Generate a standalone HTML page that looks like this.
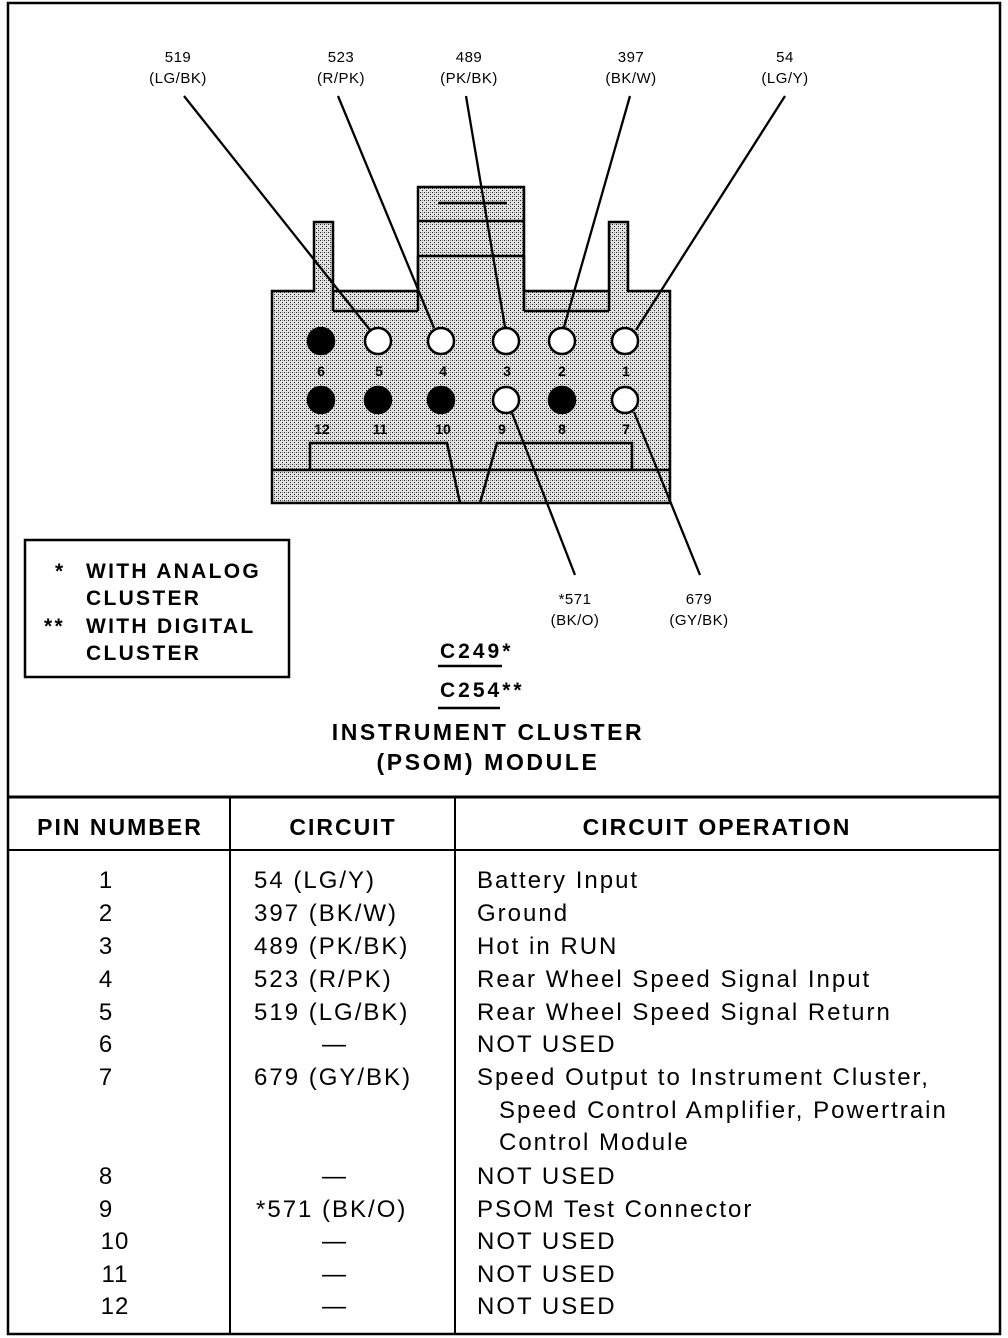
<!DOCTYPE html>
<html><head><meta charset="utf-8"><style>
html,body{margin:0;padding:0;background:#fff;}
svg{display:block}
text{font-family:"Liberation Sans",sans-serif;fill:#000}
.b{font-weight:bold}
</style></head><body>
<svg width="1008" height="1338" viewBox="0 0 1008 1338" xmlns="http://www.w3.org/2000/svg">
<defs>
<pattern id="dots" width="4" height="4" patternUnits="userSpaceOnUse">
<rect width="4" height="4" fill="#e2e2e2"/>
<rect x="0" y="0" width="1" height="1" fill="#222"/>
<rect x="2" y="2" width="1" height="1" fill="#222"/>
<rect x="2" y="0" width="1" height="1" fill="#888"/>
</pattern>
</defs>
<rect x="8" y="3" width="992" height="1331" fill="none" stroke="#000" stroke-width="2.5"/>
<line x1="8" y1="797" x2="1000" y2="797" stroke="#000" stroke-width="3"/>
<line x1="8" y1="850" x2="1000" y2="850" stroke="#000" stroke-width="2"/>
<line x1="230" y1="797" x2="230" y2="1334" stroke="#000" stroke-width="2"/>
<line x1="455" y1="797" x2="455" y2="1334" stroke="#000" stroke-width="2"/>

<g stroke="#000" stroke-width="2.5" fill="url(#dots)">
<path d="M272 291 L314 291 L314 222 L333 222 L333 291 L418 291 L418 187 L524 187 L524 291 L609 291 L609 222 L628 222 L628 291 L670 291 L670 503 L272 503 Z"/>
<line x1="418" y1="221" x2="524" y2="221"/>
<line x1="418" y1="256" x2="524" y2="256"/>
<line x1="438" y1="203" x2="507" y2="203"/>
<line x1="333" y1="311" x2="418" y2="311"/>
<line x1="418" y1="256" x2="418" y2="311"/>
<line x1="524" y1="311" x2="609" y2="311"/>
<line x1="524" y1="256" x2="524" y2="311"/>
<line x1="609" y1="291" x2="609" y2="311"/>
<line x1="333" y1="291" x2="333" y2="311"/>
<path d="M272 470 L670 470"/>
<path d="M310 470 L310 443 L447 443 L460 503" fill="none"/>
<path d="M480 503 L497 443 L632 443 L632 470" fill="none"/>
</g>
<g stroke="#000" stroke-width="2.3">
<line x1="184" y1="96" x2="370" y2="330"/>
<line x1="338" y1="96" x2="434" y2="328"/>
<line x1="466" y1="96" x2="505" y2="327"/>
<line x1="630" y1="96" x2="564" y2="327"/>
<line x1="785" y1="96" x2="636" y2="330"/>
<line x1="512" y1="413" x2="575" y2="575"/>
<line x1="634" y1="412" x2="700" y2="575"/>
</g>
<g stroke="#000" stroke-width="2.5">
<circle cx="321" cy="341" r="13" fill="#000"/>
<circle cx="378" cy="341" r="13" fill="#fff"/>
<circle cx="441" cy="341" r="13" fill="#fff"/>
<circle cx="506" cy="341" r="13" fill="#fff"/>
<circle cx="562" cy="341" r="13" fill="#fff"/>
<circle cx="625" cy="341" r="13" fill="#fff"/>
<circle cx="321" cy="400" r="13" fill="#000"/>
<circle cx="378" cy="400" r="13" fill="#000"/>
<circle cx="441" cy="400" r="13" fill="#000"/>
<circle cx="506" cy="400" r="13" fill="#fff"/>
<circle cx="562" cy="400" r="13" fill="#000"/>
<circle cx="625" cy="400" r="13" fill="#fff"/>
</g>
<g class="b" font-size="14" text-anchor="middle">
<text x="321" y="376">6</text><text x="379" y="376">5</text><text x="443" y="376">4</text><text x="507" y="376">3</text><text x="562" y="376">2</text><text x="626" y="376">1</text>
<text x="322" y="434">12</text><text x="380" y="434">11</text><text x="443" y="434">10</text><text x="502" y="434">9</text><text x="562" y="434">8</text><text x="626" y="434">7</text>
</g>
<g font-size="15" text-anchor="middle" letter-spacing="0.5">
<text x="178" y="62">519</text><text x="178" y="83">(LG/BK)</text>
<text x="341" y="62">523</text><text x="341" y="83">(R/PK)</text>
<text x="469" y="62">489</text><text x="469" y="83">(PK/BK)</text>
<text x="631" y="62">397</text><text x="631" y="83">(BK/W)</text>
<text x="785" y="62">54</text><text x="785" y="83">(LG/Y)</text>
<text x="575" y="604">*571</text><text x="575" y="625">(BK/O)</text>
<text x="699" y="604">679</text><text x="699" y="625">(GY/BK)</text>
</g>
<rect x="25" y="540" width="264" height="137" fill="none" stroke="#000" stroke-width="2.5"/>
<g class="b" font-size="21" letter-spacing="2.3">
<text x="55" y="578">*</text><text x="86" y="578">WITH ANALOG</text>
<text x="86" y="605">CLUSTER</text>
<text x="44" y="633">**</text><text x="86" y="633">WITH DIGITAL</text>
<text x="86" y="660">CLUSTER</text>
</g>
<g class="b" font-size="21" letter-spacing="3">
<text x="440" y="658">C249*</text>
<line x1="438" y1="666" x2="502" y2="666" stroke="#000" stroke-width="2.5"/>
<text x="440" y="697">C254**</text>
<line x1="438" y1="708" x2="500" y2="708" stroke="#000" stroke-width="2.5"/>
</g>
<g class="b" font-size="23" text-anchor="middle" letter-spacing="2.6">
<text x="488" y="740">INSTRUMENT CLUSTER</text>
<text x="488" y="770">(PSOM) MODULE</text>
</g>
<g class="b" font-size="23" text-anchor="middle" letter-spacing="2">
<text x="120" y="835">PIN NUMBER</text>
<text x="343" y="835">CIRCUIT</text>
<text x="717" y="835">CIRCUIT OPERATION</text>
</g>
<g font-size="24" letter-spacing="2">
<g text-anchor="middle" letter-spacing="1">
<text x="106" y="888">1</text><text x="106" y="921">2</text><text x="106" y="954">3</text><text x="106" y="987">4</text><text x="106" y="1020">5</text><text x="106" y="1052">6</text><text x="106" y="1085">7</text><text x="106" y="1184">8</text><text x="106" y="1217">9</text><text x="115" y="1249">10</text><text x="115" y="1282">11</text><text x="115" y="1314">12</text>
</g>
<text x="254" y="888">54  (LG/Y)</text>
<text x="254" y="921">397  (BK/W)</text>
<text x="254" y="954">489  (PK/BK)</text>
<text x="254" y="987">523  (R/PK)</text>
<text x="254" y="1020">519  (LG/BK)</text>
<text x="322" y="1052">—</text>
<text x="254" y="1085">679  (GY/BK)</text>
<text x="322" y="1184">—</text>
<text x="256" y="1217">*571  (BK/O)</text>
<text x="322" y="1249">—</text><text x="322" y="1282">—</text><text x="322" y="1314">—</text>
<text x="477" y="888">Battery Input</text>
<text x="477" y="921">Ground</text>
<text x="477" y="954">Hot in RUN</text>
<text x="477" y="987">Rear Wheel Speed Signal Input</text>
<text x="477" y="1020">Rear Wheel Speed Signal Return</text>
<text x="477" y="1052">NOT USED</text>
<text x="477" y="1085">Speed Output to Instrument Cluster,</text>
<text x="499" y="1118">Speed Control Amplifier, Powertrain</text>
<text x="499" y="1150">Control Module</text>
<text x="477" y="1184">NOT USED</text>
<text x="477" y="1217">PSOM Test Connector</text>
<text x="477" y="1249">NOT USED</text>
<text x="477" y="1282">NOT USED</text>
<text x="477" y="1314">NOT USED</text>
</g>
</svg>
</body></html>
